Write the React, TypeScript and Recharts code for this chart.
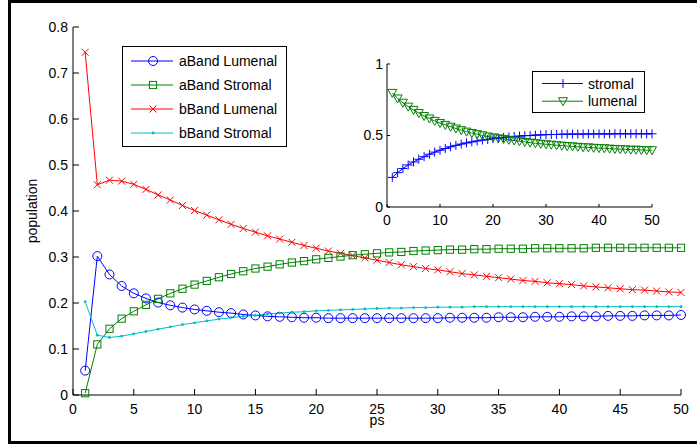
import React from 'react';
import { LineChart, Line, XAxis, YAxis, Legend, CartesianGrid } from 'recharts';

const ps = [1,2,3,4,5,6,7,8,9,10,11,12,13,14,15,16,17,18,19,20,21,22,23,24,25,26,27,28,29,30,31,32,33,34,35,36,37,38,39,40,41,42,43,44,45,46,47,48,49,50];

const aBandLumenal = [0.053,0.302,0.262,0.237,0.221,0.210,0.201,0.195,0.190,0.186,
  0.183,0.180,0.178,0.175,0.173,0.171,0.170,0.169,0.168,0.168,
  0.167,0.167,0.167,0.167,0.167,0.167,0.167,0.167,0.167,0.167,
  0.168,0.168,0.168,0.168,0.169,0.169,0.169,0.170,0.170,0.170,
  0.171,0.171,0.171,0.172,0.172,0.172,0.173,0.173,0.173,0.174];

const aBandStromal = [0.004,0.110,0.144,0.166,0.182,0.196,0.209,0.221,0.231,0.240,
  0.248,0.256,0.263,0.269,0.275,0.279,0.284,0.288,0.291,0.295,
  0.298,0.301,0.304,0.306,0.308,0.310,0.311,0.313,0.314,0.315,
  0.316,0.316,0.317,0.317,0.318,0.318,0.318,0.319,0.319,0.319,
  0.319,0.319,0.320,0.320,0.320,0.320,0.320,0.320,0.320,0.320];

const bBandLumenal = [0.745,0.457,0.467,0.465,0.458,0.447,0.435,0.424,0.412,0.401,
  0.391,0.381,0.371,0.362,0.354,0.346,0.339,0.332,0.325,0.319,
  0.313,0.308,0.303,0.298,0.293,0.288,0.283,0.279,0.275,0.272,
  0.268,0.264,0.261,0.258,0.255,0.252,0.249,0.247,0.244,0.242,
  0.240,0.237,0.235,0.233,0.231,0.229,0.228,0.226,0.224,0.223];

const bBandStromal = [0.203,0.130,0.125,0.128,0.133,0.138,0.143,0.148,0.153,0.157,
  0.161,0.165,0.168,0.171,0.173,0.176,0.178,0.180,0.181,0.183,
  0.184,0.185,0.186,0.187,0.188,0.189,0.189,0.190,0.190,0.191,
  0.191,0.191,0.192,0.192,0.192,0.192,0.192,0.192,0.192,0.192,
  0.192,0.192,0.192,0.192,0.192,0.192,0.192,0.192,0.192,0.192];

const insetStromal = [0.207,0.240,0.269,0.294,0.315,0.334,0.352,0.369,0.384,0.397,
  0.409,0.421,0.431,0.440,0.448,0.455,0.462,0.468,0.472,0.478,
  0.482,0.486,0.490,0.493,0.496,0.499,0.500,0.503,0.504,0.506,
  0.507,0.507,0.509,0.509,0.510,0.510,0.510,0.511,0.511,0.511,
  0.511,0.511,0.512,0.512,0.512,0.512,0.512,0.512,0.512,0.512];

const insetLumenal = [0.798,0.759,0.729,0.702,0.679,0.657,0.636,0.619,0.602,0.587,
  0.574,0.561,0.549,0.537,0.527,0.517,0.509,0.501,0.493,0.487,
  0.480,0.475,0.470,0.465,0.460,0.455,0.450,0.446,0.442,0.439,
  0.436,0.432,0.429,0.426,0.424,0.421,0.418,0.417,0.414,0.412,
  0.411,0.408,0.406,0.405,0.403,0.401,0.401,0.399,0.397,0.397];

const mainXTicks = [0,5,10,15,20,25,30,35,40,45,50];
const mainYTicks = [0,0.1,0.2,0.3,0.4,0.5,0.6,0.7,0.8];
const insetXTicks = [0,10,20,30,40,50];
const insetYTicks = [0,0.5,1];

const BLUE = '#0000ff';
const GREEN = '#008000';
const RED = '#ff0000';
const CYAN = '#00bfbf';
const FONT = '"Liberation Sans", Arial, Helvetica, sans-serif';

const mainData = ps.map((x, i) => ({ x, aL: aBandLumenal[i], aS: aBandStromal[i], bL: bBandLumenal[i], bS: bBandStromal[i] }));
const insetData = ps.map((x, i) => ({ x, s: insetStromal[i], l: insetLumenal[i] }));

type MarkerKind = 'circle' | 'square' | 'x' | 'dot' | 'plus' | 'tri';

function marker(kind: MarkerKind, cx: number, cy: number, color: string, key?: string) {
  switch (kind) {
    case 'circle':
      return <circle key={key} cx={cx} cy={cy} r={4.5} fill="none" stroke={color} strokeWidth={1} />;
    case 'square':
      return <rect key={key} x={cx - 3.6} y={cy - 3.6} width={7.2} height={7.2} fill="none" stroke={color} strokeWidth={1} />;
    case 'x':
      return (
        <path key={key} d={`M${cx - 3.5},${cy - 3.5}L${cx + 3.5},${cy + 3.5}M${cx - 3.5},${cy + 3.5}L${cx + 3.5},${cy - 3.5}`} stroke={color} strokeWidth={1} fill="none" />
      );
    case 'dot':
      return <circle key={key} cx={cx} cy={cy} r={1.4} fill={color} stroke="none" />;
    case 'plus':
      return (
        <path key={key} d={`M${cx - 4.5},${cy}L${cx + 4.5},${cy}M${cx},${cy - 4.5}L${cx},${cy + 4.5}`} stroke={color} strokeWidth={1} fill="none" />
      );
    case 'tri':
      return <path key={key} d={`M${cx - 4.5},${cy - 3.5}L${cx + 4.5},${cy - 3.5}L${cx},${cy + 4.5}Z`} stroke={color} strokeWidth={1} fill="none" />;
  }
  return null;
}

const dotFor = (kind: MarkerKind, color: string) => (p: any) => {
  if (p.cx == null || p.cy == null) return <g key={`e${p.index}`} />;
  return marker(kind, p.cx, p.cy, color, `${kind}${p.index}`);
};

const kindOf: Record<string, MarkerKind> = { aL: 'circle', aS: 'square', bL: 'x', bS: 'dot', s: 'plus', l: 'tri' };
const legendOrder = ['aL', 'aS', 'bL', 'bS', 's', 'l'];

function LegendBox(props: any) {
  const { payload, width, height, rowTop, rowStep, lineX1, lineX2, markX, textX } = props;
  const items = [...(payload || [])].sort((a: any, b: any) => legendOrder.indexOf(a.dataKey) - legendOrder.indexOf(b.dataKey));
  return (
    <div style={{ width, height, boxSizing: 'border-box', border: '1px solid #000', background: '#fff', position: 'relative' }}>
      <svg width={width} height={height} style={{ position: 'absolute', left: -1, top: -1 }}>
        {items.map((item: any, i: number) => {
          const cy = rowTop + i * rowStep;
          return (
            <g key={item.value}>
              <line x1={lineX1} x2={lineX2} y1={cy} y2={cy} stroke={item.color} strokeWidth={1} />
              {marker(kindOf[item.dataKey], markX, cy, item.color)}
              <text x={textX} y={cy} dy="0.36em" fontSize={14} fontFamily={FONT} fill="#000">{item.value}</text>
            </g>
          );
        })}
      </svg>
    </div>
  );
}

const axisCommon = {
  axisLine: { stroke: '#000', strokeWidth: 1 },
  tickLine: { stroke: '#000', strokeWidth: 1 },
  interval: 0 as const,
};

export default function App() {
  return (
    <div style={{ position: 'absolute', left: 0, top: 0, width: 697, height: 447, background: '#fff', overflow: 'hidden', fontFamily: FONT }}>
      <div style={{ position: 'absolute', left: 8, top: 0, width: 700, height: 444, boxSizing: 'border-box', borderTop: '3px solid #000', borderLeft: '3px solid #000', borderBottom: '3px solid #000' }} />
      <div style={{ position: 'absolute', left: 0, top: 0 }}>
        <LineChart width={697} height={447} data={mainData} margin={{ top: 27, right: 16, bottom: 12, left: 0 }} style={{ fontFamily: FONT }}>
          <XAxis xAxisId="b" dataKey="x" type="number" domain={[0, 50]} ticks={mainXTicks} height={40}
            tickSize={-6} tickMargin={15} tick={{ fill: '#000', fontSize: 14 }} {...axisCommon}
            label={{ value: 'ps', position: 'insideBottom', offset: 10, fill: '#000', fontSize: 14 }} />
          <XAxis xAxisId="t" orientation="top" dataKey="x" type="number" domain={[0, 50]} ticks={mainXTicks} height={0}
            tickSize={-6} tick={false} {...axisCommon} />
          <YAxis yAxisId="l" type="number" domain={[0, 0.8]} ticks={mainYTicks} width={73}
            tickSize={-6} tickMargin={11} tick={{ fill: '#000', fontSize: 14 }} {...axisCommon}
            label={{ value: 'population', angle: -90, position: 'insideLeft', offset: 32, fill: '#000', fontSize: 14, style: { textAnchor: 'middle' } }} />
          <YAxis yAxisId="r" orientation="right" type="number" domain={[0, 0.8]} ticks={mainYTicks} width={0}
            tickSize={-6} tick={false} {...axisCommon} />
          <Line xAxisId="b" yAxisId="l" name="aBand Lumenal" dataKey="aL" stroke={BLUE} strokeWidth={1} type="linear" dot={dotFor('circle', BLUE)} activeDot={false} isAnimationActive={false} />
          <Line xAxisId="b" yAxisId="l" name="aBand Stromal" dataKey="aS" stroke={GREEN} strokeWidth={1} type="linear" dot={dotFor('square', GREEN)} activeDot={false} isAnimationActive={false} />
          <Line xAxisId="b" yAxisId="l" name="bBand Lumenal" dataKey="bL" stroke={RED} strokeWidth={1} type="linear" dot={dotFor('x', RED)} activeDot={false} isAnimationActive={false} />
          <Line xAxisId="b" yAxisId="l" name="bBand Stromal" dataKey="bS" stroke={CYAN} strokeWidth={1} type="linear" dot={dotFor('dot', CYAN)} activeDot={false} isAnimationActive={false} />
          <Legend layout="horizontal" verticalAlign="middle" align="center"
            wrapperStyle={{ left: 122, top: 46, width: 165, height: 101 }}
            content={(p: any) => (
              <LegendBox payload={p.payload} width={165} height={101} rowTop={15} rowStep={24} lineX1={9} lineX2={51} markX={31} textX={57} />
            )} />
        </LineChart>
      </div>
      <div style={{ position: 'absolute', left: 0, top: 0 }}>
        <LineChart width={697} height={447} data={insetData} margin={{ top: 64, right: 45, bottom: 210, left: 357 }} style={{ fontFamily: FONT }}>
          <CartesianGrid xAxisId="b" yAxisId="l" horizontal={false} vertical={false} fill="#fff" fillOpacity={1} stroke="none" />
          <XAxis xAxisId="b" dataKey="x" type="number" domain={[0, 50]} ticks={insetXTicks} height={30}
            tickSize={-3} tickMargin={11} tick={{ fill: '#000', fontSize: 14 }} {...axisCommon} />
          <XAxis xAxisId="t" orientation="top" dataKey="x" type="number" domain={[0, 50]} ticks={insetXTicks} height={0}
            tickSize={-3} tick={false} {...axisCommon} />
          <YAxis yAxisId="l" type="number" domain={[0, 1]} ticks={insetYTicks} width={30}
            tickSize={-3} tickMargin={7} tick={{ fill: '#000', fontSize: 14 }} {...axisCommon} />
          <YAxis yAxisId="r" orientation="right" type="number" domain={[0, 1]} ticks={insetYTicks} width={0}
            tickSize={-3} tick={false} {...axisCommon} />
          <Line xAxisId="b" yAxisId="l" name="stromal" dataKey="s" stroke={BLUE} strokeWidth={1} type="linear" dot={dotFor('plus', BLUE)} activeDot={false} isAnimationActive={false} />
          <Line xAxisId="b" yAxisId="l" name="lumenal" dataKey="l" stroke={GREEN} strokeWidth={1} type="linear" dot={dotFor('tri', GREEN)} activeDot={false} isAnimationActive={false} />
          <Legend layout="horizontal" verticalAlign="middle" align="center"
            wrapperStyle={{ left: 532, top: 71, width: 113, height: 42 }}
            content={(p: any) => (
              <LegendBox payload={p.payload} width={113} height={42} rowTop={12.5} rowStep={17.7} lineX1={10} lineX2={51} markX={31} textX={56} />
            )} />
        </LineChart>
      </div>
    </div>
  );
}
